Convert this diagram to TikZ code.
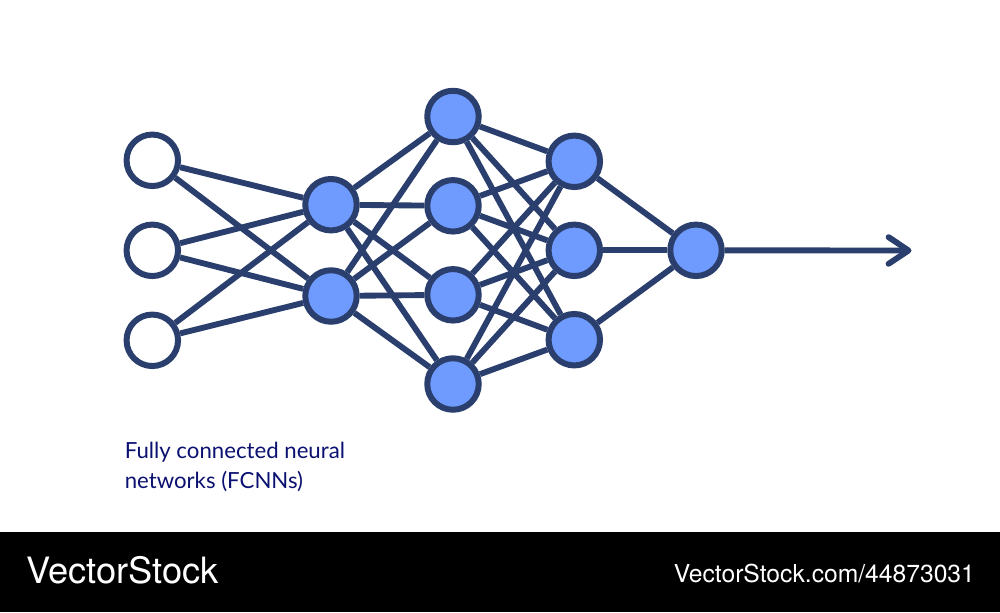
\documentclass[tikz,border=0pt]{standalone}
\usepackage{fontspec}
\setmainfont{Lato}
\newfontfamily\wmfont{TeX Gyre Heros}
\usetikzlibrary{arrows.meta,backgrounds}
\definecolor{netline}{HTML}{2A3F6D}
\definecolor{netfill}{HTML}{6F9BFF}
\definecolor{labelcol}{HTML}{0B1170}
\tikzset{
  x=0.75pt,y=-0.75pt,
  neuron/.style={circle,draw=netline,line width=4.5pt,minimum size=38.6pt,inner sep=0pt},
  hiddenn/.style={neuron,fill=netfill},
  inputn/.style={neuron,fill=white},
  edge/.style={draw=netline,line width=4.4pt},
  outarrow/.style={edge,-{Straight Barb[length=15pt,width=20pt,line width=4.4pt,round]}},
  caption/.style={text=labelcol,font=\fontsize{16.65pt}{22.5pt}\selectfont,align=left,inner sep=0pt,anchor=north west},
  wmbig/.style={text=white,font=\wmfont\fontsize{27.2pt}{30pt}\selectfont,inner sep=0pt,anchor=base west},
  wmsmall/.style={text=white,font=\wmfont\fontsize{18.5pt}{22pt}\selectfont,inner sep=0pt,anchor=base west}
}
\begin{document}
\begin{tikzpicture}
\useasboundingbox (0,0) rectangle (1000,612);
\node[inputn] (i1) at (152.3,160.3) {};
\node[inputn] (i2) at (152.3,250.3) {};
\node[inputn] (i3) at (152.3,340.3) {};
\node[hiddenn] (a1) at (331,204.7) {};
\node[hiddenn] (a2) at (331,296) {};
\node[hiddenn] (b1) at (453,116.5) {};
\node[hiddenn] (b2) at (453,205.8) {};
\node[hiddenn] (b3) at (453,294.8) {};
\node[hiddenn] (b4) at (453,384) {};
\node[hiddenn] (c1) at (574.3,161.3) {};
\node[hiddenn] (c2) at (574.3,250.3) {};
\node[hiddenn] (c3) at (574.3,339.7) {};
\node[hiddenn] (o) at (696,250.3) {};
\coordinate (tip) at (911.5,250.5);
\begin{scope}[on background layer]
  \fill[white] (0,0) rectangle (1000,612);
  \fill[black] (0,532) rectangle (1000,612);
  \foreach \s in {i1,i2,i3} \foreach \t in {a1,a2} \draw[edge] (\s) -- (\t);
  \foreach \s in {a1,a2} \foreach \t in {b1,b2,b3,b4} \draw[edge] (\s) -- (\t);
  \foreach \s in {b1,b2,b3,b4} \foreach \t in {c1,c2,c3} \draw[edge] (\s) -- (\t);
  \foreach \s in {c1,c2,c3} \draw[edge] (\s) -- (o);
  \draw[outarrow] (o) -- (tip);
\end{scope}
\node[caption] (cap) at (124.5,441.5) {Fully connected neural\\networks (FCNNs)};
\node[wmbig] (wm1) at (26,583.5) {VectorStock};
\node[wmsmall] (wm2) at (673.5,582) {VectorStock.com/44873031};
\end{tikzpicture}
\end{document}
